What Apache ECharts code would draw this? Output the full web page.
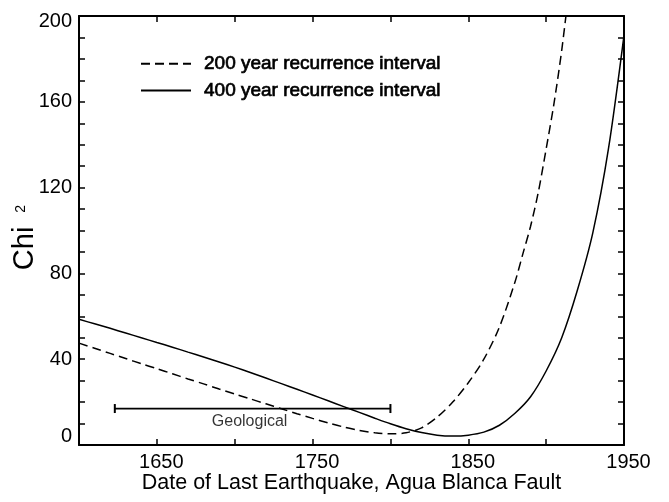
<!DOCTYPE html>
<html>
<head>
<meta charset="utf-8">
<script src="https://cdn.jsdelivr.net/npm/echarts@6/dist/echarts.min.js"></script>
<style>
html,body{margin:0;padding:0;background:#fff;}
#chart{width:669px;height:502px;}
</style>
</head>
<body>
<div id="chart"></div>
<script>
// ---- data ----
const years200 = [1600,1610,1620,1630,1640,1650,1660,1670,1680,1690,1700,1710,1720,1730,1740,1750,1760,1770,1780,1790,1800,1810,1820,1830,1840,1850,1860,1870,1880,1885,1890,1895,1900,1905,1910,1914];
const chi200   = [47.5,45.1,42.7,40.3,37.9,35.6,33.2,30.8,28.5,26.1,23.8,21.5,19.2,16.9,14.6,12.4,10.3,8.4,6.8,5.7,5.2,5.7,8.0,13.0,20.0,29,40,55,76,89,102,118,138,159,184,208];
const years400 = [1600,1610,1620,1630,1640,1650,1660,1670,1680,1690,1700,1710,1720,1730,1740,1750,1760,1770,1780,1790,1800,1810,1820,1830,1840,1850,1860,1870,1880,1890,1900,1910,1920,1930,1940,1950];
const chi400   = [58.6,56.5,54.4,52.2,50.0,47.8,45.6,43.3,41.0,38.7,36.3,33.8,31.2,28.6,26.0,23.3,20.6,17.9,15.2,12.5,9.9,7.6,5.8,4.6,4.2,4.6,6.0,9.2,14.8,22.5,34.5,50,72,99,138,191];
const seriesNames = ['200 year recurrence interval', '400 year recurrence interval'];
const geoRange = [1623, 1800];
const geoLevel = 17;
const geoLabel = 'Geological';
const xTickLabels = [1650, 1750, 1850, 1950];
const yTickLabels = [0, 40, 80, 120, 160, 200];
const xTitle = 'Date of Last Earthquake, Agua Blanca Fault';
const yTitle = ['Chi', '2'];

const zip = (xs, ys) => xs.map((x, i) => [x, ys[i]]);
const FONT = '"Liberation Sans", Arial, Helvetica, sans-serif';

const chart = echarts.init(document.getElementById('chart'), null, {renderer: 'canvas'});

const axisLineStyle = () => ({show: true, onZero: false, lineStyle: {color: '#000', width: 2}});
const tickStyle = () => ({show: true, inside: true, length: 6, lineStyle: {color: '#000', width: 1.5}});

const option = {
  backgroundColor: '#fff',
  animation: false,
  grid: {left: 79, right: 45, top: 16, bottom: 57, containLabel: false, outerBoundsMode: 'none'},
  legend: {
    orient: 'vertical',
    left: 135,
    top: 49,
    itemWidth: 50,
    itemHeight: 10,
    itemGap: 7,
    data: seriesNames,
    itemStyle: {color: 'rgba(0,0,0,0)', borderColor: 'rgba(0,0,0,0)', borderWidth: 0},
    textStyle: {
      fontFamily: FONT, fontSize: 19, color: '#000',
      textBorderColor: '#000', textBorderWidth: 0.7,
      padding: [0, 0, 0, 8]
    }
  },
  xAxis: [{
    type: 'value', min: 1600, max: 1950, interval: 50,
    position: 'bottom',
    axisLine: axisLineStyle(), axisTick: tickStyle(), splitLine: {show: false},
    axisLabel: {
      fontFamily: FONT, fontSize: 20, color: '#000', margin: 7,
      padding: [0, 0, 0, 9],
      formatter: v => xTickLabels.includes(v) ? String(v) : ''
    },
    name: xTitle, nameLocation: 'middle', nameGap: 27, nameMoveOverlap: false,
    nameTextStyle: {fontFamily: FONT, fontSize: 21.5, color: '#000'}
  }, {
    type: 'value', min: 1600, max: 1950, interval: 50,
    position: 'top',
    axisLine: axisLineStyle(), axisTick: tickStyle(), splitLine: {show: false},
    axisLabel: {show: false}
  }],
  yAxis: [{
    type: 'value', min: 0, max: 200, interval: 10,
    position: 'left',
    axisLine: axisLineStyle(), axisTick: tickStyle(), splitLine: {show: false},
    axisLabel: {
      fontFamily: FONT, fontSize: 20, color: '#000', margin: 7,
      formatter: v => {
        if (!yTickLabels.includes(v)) return '';
        if (v === yTickLabels[0]) return '{lo|' + v + '}';
        if (v === yTickLabels[yTickLabels.length - 1]) return '{hi|' + v + '}';
        return String(v);
      },
      rich: {
        lo: {fontFamily: FONT, fontSize: 20, color: '#000', padding: [0, 0, 18, 0]},
        hi: {fontFamily: FONT, fontSize: 20, color: '#000', padding: [10, 0, 0, 0]}
      }
    },
    name: '{a|' + yTitle[0] + '}{b|' + yTitle[1] + '}',
    nameLocation: 'middle', nameRotate: 90, nameGap: 40, nameMoveOverlap: false,
    nameTextStyle: {
      fontFamily: FONT, color: '#000',
      rich: {
        a: {fontFamily: FONT, fontSize: 29, color: '#000', verticalAlign: 'bottom'},
        b: {fontFamily: FONT, fontSize: 14, color: '#000', verticalAlign: 'top', padding: [4, 14, 0, 14]}
      }
    }
  }, {
    type: 'value', min: 0, max: 200, interval: 10,
    position: 'right',
    axisLine: axisLineStyle(), axisTick: tickStyle(), splitLine: {show: false},
    axisLabel: {show: false}
  }],
  series: [{
    name: seriesNames[0], type: 'line', smooth: 0.3, symbol: 'none', clip: true,
    data: zip(years200, chi200),
    lineStyle: {color: '#000', width: 1.5, type: [9, 5]},
    itemStyle: {color: '#000'}
  }, {
    name: seriesNames[1], type: 'line', smooth: 0.3, symbol: 'none', clip: true,
    data: zip(years400, chi400),
    lineStyle: {color: '#000', width: 1.5, type: 'solid'},
    itemStyle: {color: '#000'}
  }, {
    name: 'geo', type: 'line', symbol: 'rect', symbolSize: [2, 9],
    data: geoRange.map(x => [x, geoLevel]),
    lineStyle: {color: '#000', width: 1.8},
    itemStyle: {color: '#000'},
    z: 5
  }, {
    name: 'geoLabel', type: 'scatter', symbolSize: 0,
    data: [[(geoRange[0] + geoRange[1]) / 2, geoLevel]],
    label: {
      show: true, position: 'bottom', distance: 5, offset: [-3, 0],
      formatter: geoLabel,
      fontFamily: FONT, fontSize: 16, color: '#000'
    }
  }]
};
chart.setOption(option);
</script>
</body>
</html>
